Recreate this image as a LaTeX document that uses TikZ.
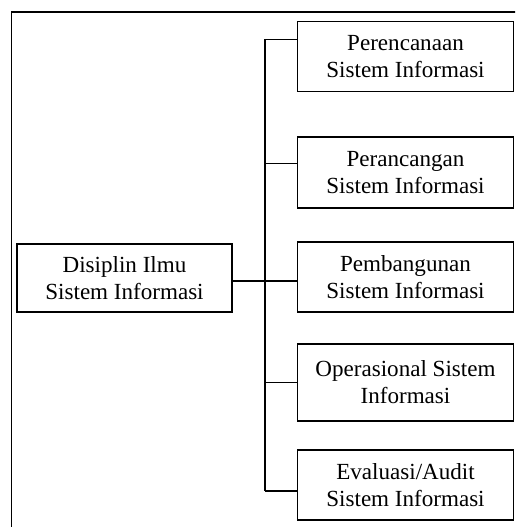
\documentclass[tikz,border=0pt]{standalone}
\usepackage{fontspec}
\setmainfont{Liberation Serif}
\begin{document}
\begin{tikzpicture}[x=0.75pt, y=-0.75pt,
  kotak/.style={draw, line width=0.9pt, minimum width=162pt, minimum height=52.5pt,
    align=center, inner sep=0pt, font=\fontsize{17.3}{20.25}\selectfont},
  garis/.style={line width=0.8pt}]
\useasboundingbox (0,0) rectangle (515,527);
\clip (0,0) rectangle (515,527);

% bingkai luar
\draw[line width=1.3pt] (11.5,545) -- (11.5,12) -- (545,12);

\node[kotak, minimum width=161.25pt, minimum height=51pt] (disiplin) at (124.5,278) {Disiplin Ilmu\\Sistem Informasi};

\node[kotak] (rencana) at (405.5,56.5) {Perencanaan\\Sistem Informasi};
\node[kotak, minimum height=53.25pt] (rancang) at (405.5,172.5) {Perancangan\\Sistem Informasi};
\node[kotak] (bangun) at (405.5,277) {Pembangunan\\Sistem Informasi};
\node[kotak, minimum height=57.75pt] (operasi) at (405.5,382.5) {Operasional Sistem\\Informasi};
\node[kotak] (audit) at (405.5,485) {Evaluasi/Audit\\Sistem Informasi};

\coordinate (cabang) at (265,0);
\draw[garis] ([yshift=-2.25pt]disiplin.east) -- ([yshift=-2.25pt]disiplin.east -| cabang);
\foreach \nama/\geser in {rencana/12.75, rancang/6.4, bangun/-3, operasi/0, audit/-4.5}
  \draw[garis] ([yshift=\geser pt]\nama.west) -- ([yshift=\geser pt]\nama.west -| cabang);
\draw[garis] ([yshift=12.75pt]rencana.west -| cabang) -- ([yshift=-4.5pt]audit.west -| cabang);
\end{tikzpicture}
\end{document}
